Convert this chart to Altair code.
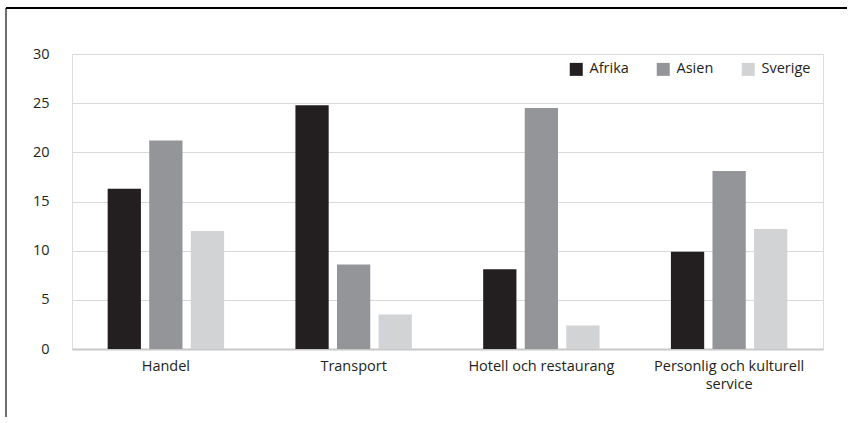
import altair as alt
import pandas as pd

categories = ["Handel", "Transport", "Hotell och restaurang", "Personlig och kulturell service"]
series = ["Afrika", "Asien", "Sverige"]
afrika = [16.3, 24.8, 8.1, 9.9]
asien = [21.2, 8.6, 24.5, 18.1]
sverige = [12.0, 3.5, 2.4, 12.2]
colors = ["#231f20", "#939598", "#d1d3d4"]
y_ticks = [0, 5, 10, 15, 20, 25, 30]

rows = []
for s, vals in zip(series, [afrika, asien, sverige]):
    for c, v in zip(categories, vals):
        rows.append({"Kategori": c, "Region": s, "Värde": v})
df = pd.DataFrame(rows)

FONT = "Open Sans"
TXT = "#231f20"
FS = 14.5

bars = alt.Chart(df).mark_bar().encode(
    x=alt.X(
        "Kategori:N",
        sort=categories,
        scale=alt.Scale(paddingInner=0.38, paddingOuter=0.19),
        axis=alt.Axis(
            title=None,
            labelAngle=0,
            ticks=False,
            domain=False,
            labelPadding=10,
            labelFontSize=FS,
            labelFont=FONT,
            labelColor=TXT,
            labelLineHeight=18,
            labelExpr="datum.label == 'Personlig och kulturell service' ? ['Personlig och kulturell', 'service'] : datum.label",
        ),
    ),
    xOffset=alt.XOffset("Region:N", sort=series, scale=alt.Scale(paddingInner=0.2)),
    y=alt.Y(
        "Värde:Q",
        scale=alt.Scale(domain=[0, 30]),
        axis=alt.Axis(
            title=None,
            values=y_ticks,
            domain=False,
            ticks=False,
            labelPadding=23,
            labelFontSize=FS,
            labelFont=FONT,
            labelColor=TXT,
            gridColor={"condition": {"test": "datum.value === 0", "value": "#c8c8c8"}, "value": "#d9d9d9"},
            gridWidth={"condition": {"test": "datum.value === 0", "value": 2}, "value": 1},
        ),
    ),
    color=alt.Color(
        "Region:N",
        sort=series,
        scale=alt.Scale(domain=series, range=colors),
        legend=alt.Legend(
            title=None,
            orient="none",
            direction="horizontal",
            legendX=497,
            legendY=8,
            symbolType="square",
            symbolSize=169,
            symbolStrokeWidth=0,
            symbolOpacity=1,
            labelFontSize=FS,
            labelFont=FONT,
            labelColor=TXT,
            labelOffset=6,
            columnPadding=27,
        ),
    ),
)

left_line = alt.Chart(df).mark_rule(color="#6d6e71", strokeWidth=2).encode(
    x=alt.value(-66), y=alt.value(-46), y2=alt.value(369)
)
top_line = alt.Chart(df).mark_rule(color="#000000", strokeWidth=2).encode(
    x=alt.value(-66), x2=alt.value(777), y=alt.value(-46)
)

chart = alt.layer(bars, left_line, top_line).properties(
    width=751,
    height=295,
    autosize=alt.AutoSizeParams(type="none"),
    padding={"left": 72, "top": 54, "right": 24, "bottom": 68},
).configure_view(stroke=None).configure(background="white")

chart.save("out.html", embed_options={"renderer": "svg", "actions": False})
